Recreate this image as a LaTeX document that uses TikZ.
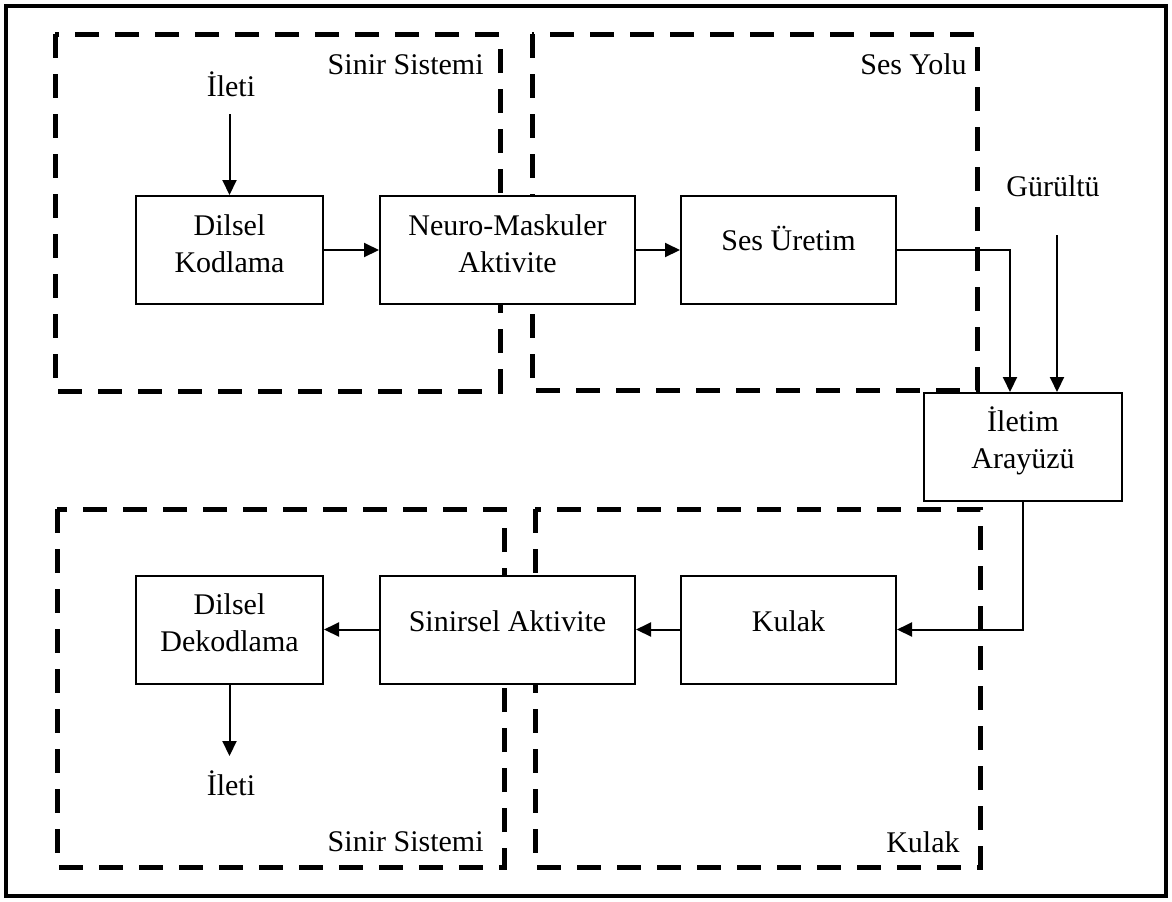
\documentclass[tikz,border=0pt]{standalone}
\usepackage{fontspec}
\setmainfont{Liberation Serif}
\usetikzlibrary{arrows.meta}
\begin{document}
\begin{tikzpicture}[x=0.5pt,y=-0.5pt,
  frame/.style={draw=black, line width=2pt},
  region/.style={draw=black, line width=2.5pt, dash pattern=on 12pt off 8pt},
  block/.style={draw=black, fill=white, line width=1pt, inner sep=0pt, minimum height=54pt},
  txt/.style={font=\fontsize{15pt}{18.5pt}\selectfont, inner sep=0pt, align=center},
  arr/.style={draw=black, line width=1pt, -{Triangle[length=7.5pt,width=7pt]}},
]
\useasboundingbox (0,0) rectangle (1172,901);
\fill[white] (0,0) rectangle (1172,901);
\draw[frame] (6,6) rectangle (1166,896);

% dashed regions
\draw[region] (55,34) rectangle (500,391);
\draw[region] (532,34) rectangle (977,390);
\draw[region] (57,509) rectangle (504,867);
\draw[region] (535,509) rectangle (980,867);

% region captions
\node[txt, anchor=base east] (capNS1) at (484,74) {Sinir Sistemi};
\node[txt, anchor=base east] (capSY) at (967,74) {Ses Yolu};
\node[txt, anchor=base east] (capNS2) at (484,851) {Sinir Sistemi};
\node[txt, anchor=base east] (capK) at (960,852) {Kulak};

% blocks
\node[block, minimum width=93.5pt] (kod) at (229.5,250) {};
\node[block, minimum width=127.5pt] (neuro) at (507.5,250) {};
\node[block, minimum width=107.5pt] (ses) at (788.5,250) {};
\node[block, minimum width=99pt] (iletim) at (1023,447) {};
\node[block, minimum width=107.5pt] (kulak) at (788.5,629.5) {};
\node[block, minimum width=127.5pt] (sinirsel) at (507.5,629.5) {};
\node[block, minimum width=93.5pt] (dek) at (229.5,629.5) {};

% block texts (base anchor sits on the last line)
\node[txt, anchor=base] (tkod) at ([yshift=-38.5pt]kod.north) {Dilsel\\Kodlama};
\node[txt, anchor=base] (tneuro) at ([yshift=-38.5pt]neuro.north) {Neuro-Maskuler\\Aktivite};
\node[txt, anchor=base] (tses) at (ses.center) {Ses Üretim};
\node[txt, anchor=base] (tiletim) at ([yshift=-38pt]iletim.north) {İletim\\Arayüzü};
\node[txt, anchor=base] (tkulak) at ([yshift=-0.75pt]kulak.center) {Kulak};
\node[txt, anchor=base] (tsinirsel) at ([yshift=-0.75pt]sinirsel.center) {Sinirsel Aktivite};
\node[txt, anchor=base] (tdek) at ([yshift=-38.5pt]dek.north) {Dilsel\\Dekodlama};

% free texts
\node[txt, anchor=base] (msgin) at (231,96) {İleti};
\node[txt, anchor=base] (noise) at (1053,196) {Gürültü};
\node[txt, anchor=base] (msgout) at (231,795) {İleti};

% connectors
\coordinate (inA) at (229.5,114);
\coordinate (noiseA) at (1057,235);
\coordinate (bend) at (1010,250);
\coordinate (outA) at (229.5,756);
\draw[arr] (inA) -- (kod.north);
\draw[arr] (kod.east) -- (neuro.west);
\draw[arr] (neuro.east) -- (ses.west);
\draw[arr] (ses.east) -| (bend |- iletim.north);
\draw[arr] (noiseA) -- (noiseA |- iletim.north);
\draw[arr] (iletim.south) |- (kulak.east);
\draw[arr] (kulak.west) -- (sinirsel.east);
\draw[arr] (sinirsel.west) -- (dek.east);
\draw[arr] (dek.south) -- (outA);
\end{tikzpicture}
\end{document}
